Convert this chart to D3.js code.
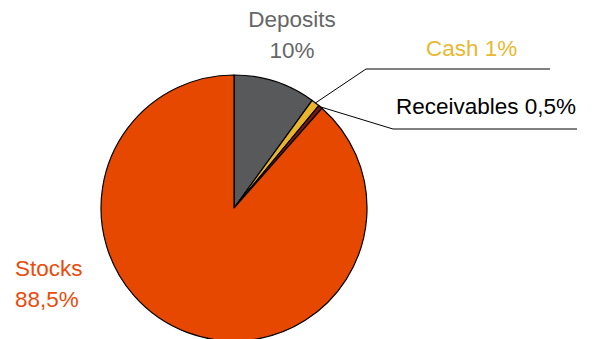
<!DOCTYPE html>
<html>
<head>
<meta charset="utf-8">
<script src="https://cdn.jsdelivr.net/npm/d3@7"></script>
<style>
  body { margin: 0; background: #fff; }
  text { font-family: "Liberation Sans", Arial, sans-serif; }
</style>
</head>
<body>
<div id="myPlot"></div>
<script>
// data
var categories = ["Deposits", "Cash", "Receivables", "Stocks"];
var values = [10, 1, 0.5, 88.5];
var valueLabels = ["10%", "1%", "0,5%", "88,5%"];
var colors = ["#58595B", "#E8B52C", "#7A1A0C", "#E64800"];

var svgWidth = 593;
var svgHeight = 339;

var cx = 234, cy = 208, radius = 133;

var svg = d3.select("#myPlot")
    .append("svg")
    .attr("width", svgWidth)
    .attr("height", svgHeight);

var data = categories.map(function (c, i) {
    return { name: c, value: values[i], label: valueLabels[i], color: colors[i] };
});

var pie = d3.pie().sort(null).value(d => d.value);
var arc = d3.arc().innerRadius(0).outerRadius(radius);
var arcs = pie(data);

var g = svg.append("g").attr("transform", `translate(${cx}, ${cy})`);

g.selectAll("path").data(arcs)
    .enter().append("path")
    .attr("d", arc)
    .attr("fill", d => d.data.color)
    .attr("stroke", "#000")
    .attr("stroke-width", 1.2)
    .attr("stroke-linejoin", "round");

// label layout (positions in page coords)
var layout = {
    Deposits: { lines: ["Deposits", "10%"], x: 292, y: 27, anchor: "middle", color: "#666666" },
    Cash: { lines: ["Cash 1%"], x: 426, y: 56, anchor: "start", color: "#E8B830",
        elbow: [366, 69], end: 550 },
    Receivables: { lines: ["Receivables 0,5%"], x: 396, y: 114, anchor: "start", color: "#000000",
        elbow: [393, 129], end: 577 },
    Stocks: { lines: ["Stocks", "88,5%"], x: 15, y: 276, anchor: "start", color: "#E84C0C" }
};

// leader lines
arcs.forEach(function (a) {
    var L = layout[a.data.name];
    if (!L.elbow) return;
    var mid = (a.startAngle + a.endAngle) / 2;
    var sx = cx + radius * Math.sin(mid);
    var sy = cy - radius * Math.cos(mid);
    svg.append("polyline")
        .attr("points", `${sx},${sy} ${L.elbow[0]},${L.elbow[1]} ${L.end},${L.elbow[1]}`)
        .attr("fill", "none")
        .attr("stroke", "#000")
        .attr("stroke-width", 1);
});

// labels
arcs.forEach(function (a) {
    var L = layout[a.data.name];
    var t = svg.append("text")
        .attr("x", L.x)
        .attr("y", L.y)
        .attr("text-anchor", L.anchor)
        .attr("fill", L.color)
        .style("font-size", "22.5px");
    L.lines.forEach(function (line, i) {
        t.append("tspan")
            .attr("x", L.x)
            .attr("dy", i === 0 ? 0 : 31)
            .text(line);
    });
});
</script>
</body>
</html>
